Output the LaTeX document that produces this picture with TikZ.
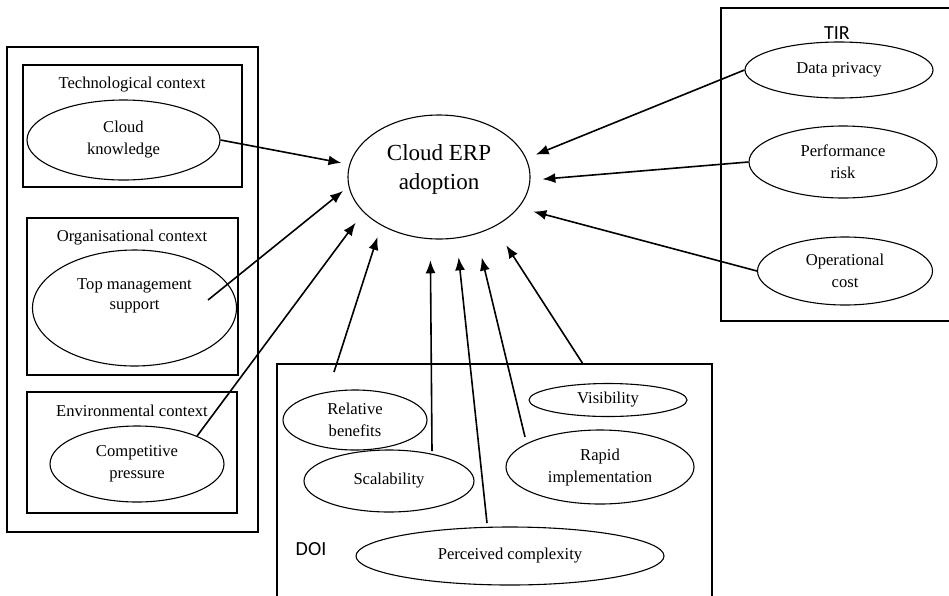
\documentclass[tikz,border=0pt]{standalone}
\usepackage{fontspec}
\setmainfont{Liberation Serif}
\newfontfamily\theoryfont{Carlito}
\usetikzlibrary{shapes,arrows.meta,calc}
\tikzstyle{construct}=[ellipse,draw,line width=1.1pt,inner sep=0pt,align=center,font=\fontsize{16.6}{22}\selectfont]
\tikzstyle{context} = [draw,line width=1.1pt]
\tikzstyle{heading} = [font=\fontsize{16.6}{20}\selectfont]
\tikzstyle{theory} = [font=\theoryfont\fontsize{20}{24}\selectfont]
\tikzstyle{edge} = [draw,line width=1.6pt,-{Latex[length=13pt,width=10pt]}]

\begin{document}
\begin{tikzpicture}[x=1pt,y=-1pt]
    \useasboundingbox (0,0) rectangle (949,595);
    % First the framework boxes (TOE, TIR and DOI)
    \draw[context] (7,47) rectangle (258,532);
    \draw[context] (23,65) rectangle (242,187);
    \draw[context] (27,218) rectangle (238,375);
    \draw[context] (27,392) rectangle (237,513);
    \draw[context] (721,8) rectangle (960,321);
    \draw[context] (277,364) rectangle (712,620);

    \foreach \pos/\name/\txt in {{(132,85)/techctx/Technological context},{(132,238)/orgctx/Organisational context},{(132,411)/envctx/Environmental context}}
        \node[heading] (\name) at \pos {\txt};
    \node[theory] (tir) at (837,33) {TIR};
    \node[theory] (doi) at (311,549) {DOI};

    % Then the constructs
    \foreach \pos/\name/\wid/\hgt/\txt in {{(123.5,140)/ck/193/80/{Cloud\\knowledge}},
        {(137,464)/cp/174/76/{Competitive\\pressure}},
        {(355,420)/rb/144/60/{Relative\\benefits}},
        {(389,481)/sc/170/62/{Scalability}},
        {(510,556)/pc/308/58/{Perceived complexity}},
        {(608,400)/vi/158/33/{Visibility}},
        {(600,467)/ri/188/74/{Rapid\\implementation}},
        {(839,70)/dp/188/56/{Data privacy}},
        {(843,162)/pr/188/72/{Performance\\risk}},
        {(845,271)/oc/175/68/{Operational\\cost}}}
        \node[construct,minimum width=\wid pt,minimum height=\hgt pt] (\name) at \pos {\txt};

    % these two have their text set a bit high
    \node[construct,minimum width=204pt,minimum height=116pt,
        label={[heading,align=center,yshift=12pt]center:{Top management\\support}}] (tms) at (134.5,308) {};
    \node[construct,minimum width=182pt,minimum height=124pt,
        label={[font=\fontsize{23}{29}\selectfont,align=center,yshift=8pt]center:{Cloud ERP\\adoption}}] (erp) at (439,177) {};

    % loose ends of the arrows
    \coordinate (tmsout) at (208,300);
    \coordinate (rbout) at (334,372);
    \coordinate (scout) at (432,451);
    \coordinate (pcout) at (487,523);
    \coordinate (riout) at (525,437);
    \coordinate (viout) at (583,364);

    % Connect everything to the adoption node
    \foreach \source/\ang/\gap in {ck.east/172/8, tmsout/186/7, cp.25/205/13, rbout/220/12, scout/262/21, pcout/286/19, riout/303/24, viout/318/22, dp.west/12/10, pr.west/358/12, oc.west/339/15}
        \path[edge,shorten >=\gap pt] (\source) -- (erp.\ang);
\end{tikzpicture}
\end{document}
